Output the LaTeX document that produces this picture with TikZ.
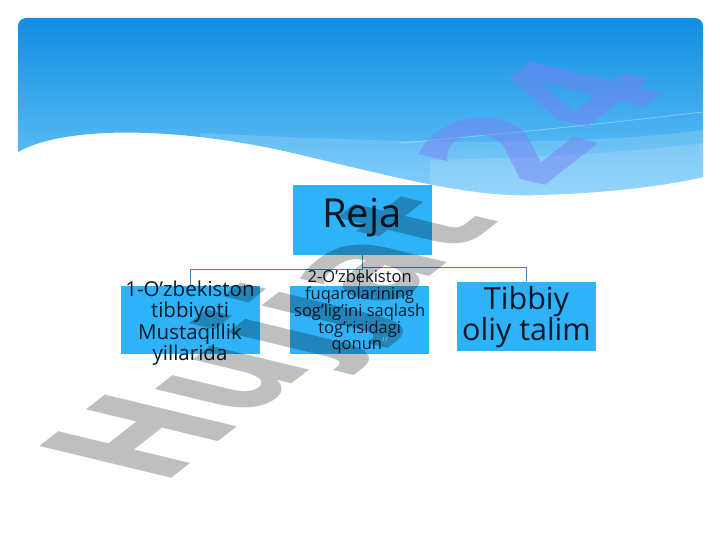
\documentclass[tikz,border=0pt]{standalone}
\usepackage{fontspec}
\setmainfont{Open Sans}
\newfontfamily\wmfont{DejaVu Sans}
\usetikzlibrary{positioning}
\definecolor{boxblue}{RGB}{46,178,248}
\definecolor{linkblue}{RGB}{60,135,180}
\definecolor{textdark}{RGB}{12,24,40}
\definecolor{headtop}{RGB}{16,142,226}
\definecolor{headbot}{RGB}{110,200,250}
\definecolor{wmblue}{RGB}{122,128,242}
\newcommand{\headerpath}{(18,152) -- (18,26) arc[start angle=180,end angle=270,radius=8] -- (695,18) arc[start angle=270,end angle=360,radius=8] -- (703,177) .. controls (670,185) and (610,193) .. (540,195) .. controls (470,198) and (400,178) .. (280,150) .. controls (160,125) and (60,128) .. (18,152) -- cycle}
\tikzset{
  box/.style={fill=boxblue, minimum width=139pt, minimum height=68pt, inner sep=0},
  boxtext/.style={align=center, text=textdark, inner sep=0},
  link/.style={draw=linkblue, line width=0.9pt},
  wmark/.style={anchor=base, rotate=61, transform shape, inner sep=0, font=\wmfont\bfseries\fontsize{90}{90}\selectfont},
}
\begin{document}
\begin{tikzpicture}[x=1pt, y=-1pt]
    \useasboundingbox[fill=white] (0,0) rectangle (720,540);
    \shade[top color=headtop, bottom color=headbot] \headerpath;
    \begin{scope}
      \clip \headerpath;
      \fill[white, opacity=0.15] (200,133) .. controls (350,140) and (550,150) .. (703,130) -- (703,200) -- (200,200) -- cycle;
      \fill[white, opacity=0.15] (430,160) .. controls (550,158) and (650,150) .. (703,143) -- (703,200) -- (430,200) -- cycle;
      \draw[white, opacity=0.35, line width=0.8pt] (400,143) .. controls (550,130) and (650,118) .. (703,112);
      \begin{scope}[xscale=2.3]
        \node[wmark, text=wmblue, opacity=0.5] (wm-top) at (182.6,284) {Hujjat 24};
      \end{scope}
    \end{scope}

    \node[box, minimum height=69pt] (plan) at (362,220) {};
    \node[box] (b1) at (190,320) {};
    \node[box] (b2) at (359.7,320) {};
    \node[box, minimum height=69pt] (b3) at (526.5,316) {};

    \coordinate (busL) at (190,269.5);
    \coordinate (busR) at (526.5,267);
    \draw[link] (plan.south) -- (plan.south |- busL) -| (b1.north);
    \draw[link] (plan.south |- busR) -| (b3.north);
    \draw[link] (b2.north |- busL) -- (b2.north);

    \node[boxtext, font=\fontsize{40}{41}\selectfont] (plan-t) at (362,218) {Reja};
    \node[boxtext, font=\fontsize{20.5}{21.5}\selectfont] (b1-t) at (190,323) {1-O’zbekiston\\tibbiyoti\\Mustaqillik\\yillarida};
    \node[boxtext, font=\fontsize{16.5}{16.8}\selectfont] (b2-t) at (359.7,312) {2-O’zbekiston\\fuqarolarining\\sog’lig’ini saqlash\\tog’risidagi\\qonun{\color{white!60!boxblue}”}};
    \node[boxtext, font=\fontsize{30.5}{31}\selectfont] (b3-t) at (526.5,317) {Tibbiy\\oliy talim};

    \begin{scope}[even odd rule]
      \clip (0,0) rectangle (720,540) \headerpath;
      \begin{scope}[xscale=2.3]
        \node[wmark, text=black, opacity=0.25] (wm) at (182.6,284) {Hujjat 24};
      \end{scope}
    \end{scope}
\end{tikzpicture}
\end{document}
